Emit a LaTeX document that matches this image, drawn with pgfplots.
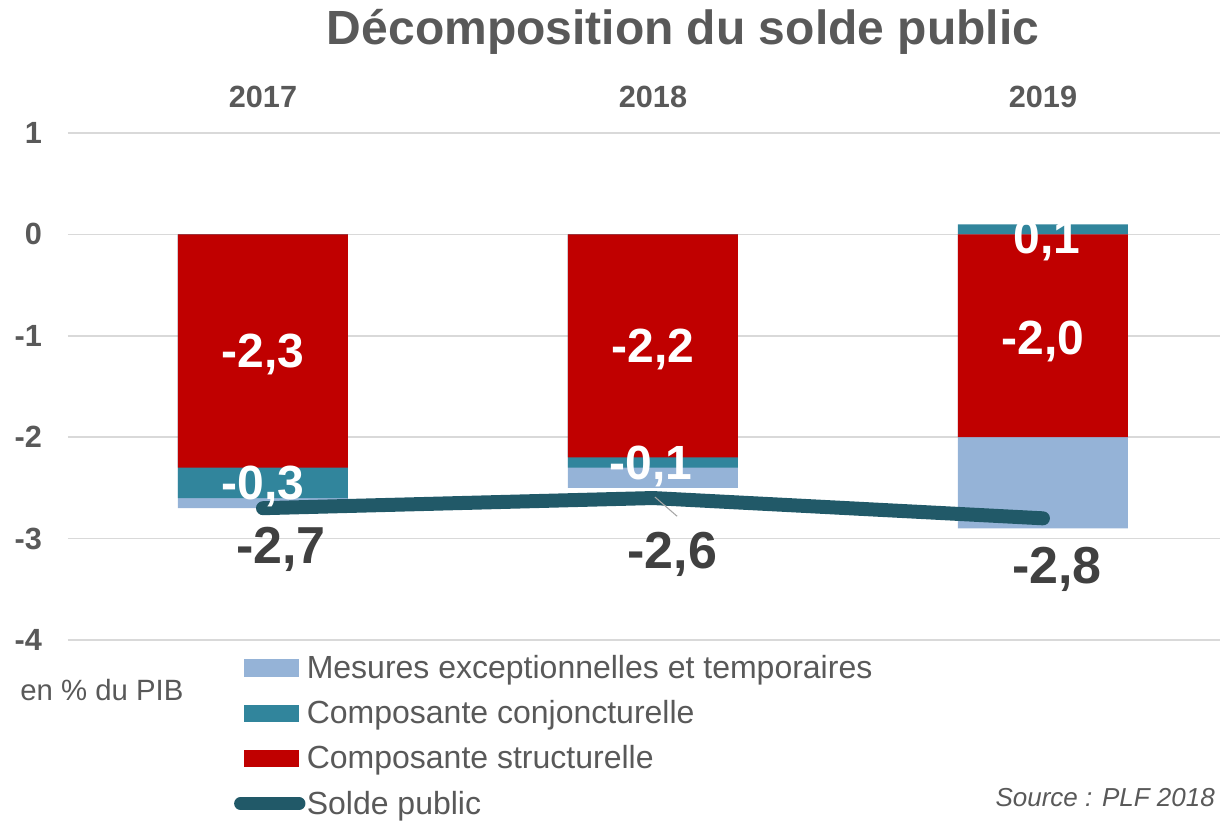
\documentclass[border=0pt]{standalone}
\usepackage{pgfplots}
\pgfplotsset{compat=1.18}
\usepackage{fontspec}
\setmainfont{Liberation Sans}
\definecolor{cRed}{HTML}{C00000}
\definecolor{cTeal}{HTML}{31859C}
\definecolor{cLight}{HTML}{95B3D7}
\definecolor{cLine}{HTML}{215968}
\definecolor{cText}{HTML}{595959}
\definecolor{cDark}{HTML}{404040}
\definecolor{cGrid}{HTML}{D9D9D9}
\begin{document}
\begin{tikzpicture}
\path[use as bounding box] (-51pt,-135.75pt) rectangle (864pt,480pt);
\begin{axis}[
  at={(0,0)}, anchor=south west, scale only axis,
  width=864pt, height=380.25pt,
  xmin=-0.5, xmax=2.454, ymin=-4, ymax=1,
  axis line style={draw=none}, tick style={draw=none}, major tick length=0pt,
  xtick=\empty,
  ytick={-4,-3,-2,-1,0,1},
  yticklabels={-4,-3,-2,-1,0,1},
  yticklabel style={font=\fontsize{23}{26}\selectfont\bfseries, text=cText, xshift=-16pt},
  ymajorgrids, grid style={cGrid, line width=1.2pt},
  clip=false,
  legend style={draw=none, fill=none, at={(0.1405,-0.022)}, anchor=north west,
    font=\fontsize{24}{27}\selectfont, text=cText, row sep=13pt,
    nodes={inner sep=1pt}},
  legend cell align=left,
]
\addplot[ybar, bar width=127.5pt, bar shift=0pt, fill=cLight, draw=none,
  legend image code/.code={\fill[cLight] (0pt,-6.4pt) rectangle (41pt,6.4pt);}]
  coordinates {(0,-2.7) (1,-2.5) (2,-2.9)};
\addlegendentry{Mesures exceptionnelles et temporaires}
\addplot[ybar, bar width=127.5pt, bar shift=0pt, fill=cTeal, draw=none,
  legend image code/.code={\fill[cTeal] (0pt,-6.4pt) rectangle (41pt,6.4pt);}]
  coordinates {(0,-2.6) (1,-2.3) (2,0.1)};
\addlegendentry{Composante conjoncturelle}
\addplot[ybar, bar width=127.5pt, bar shift=0pt, fill=cRed, draw=none,
  legend image code/.code={\fill[cRed] (0pt,-6.4pt) rectangle (41pt,6.4pt);}]
  coordinates {(0,-2.3) (1,-2.2) (2,-2.0)};
\addlegendentry{Composante structurelle}
\addplot[cLine, line width=10.5pt, line cap=round, line join=round, mark=none,
  legend image code/.code={\draw[cLine, line width=9.5pt, line cap=round] (-3pt,0pt) -- (41pt,0pt);}]
  coordinates {(0,-2.7) (1,-2.6) (2,-2.8)};
\addlegendentry{Solde public}

% leader line
\draw[gray!70, line width=0.8pt] (axis cs:1.005,-2.59) -- (axis cs:1.062,-2.78);

% data labels
\begin{scope}[every node/.style={font=\fontsize{36}{40}\selectfont\bfseries, text=white, inner sep=0pt}]
\node at (axis cs:0,-1.18) {-2,3};
\node at (axis cs:1,-1.13) {-2,2};
\node at (axis cs:2,-1.06) {-2,0};
\node at (axis cs:0,-2.49) {-0,3};
\node at (axis cs:0.995,-2.29) {-0,1};
\node at (axis cs:2.01,-0.06) {0,1};
\end{scope}
\begin{scope}[every node/.style={font=\fontsize{39}{43}\selectfont\bfseries, text=cDark, inner sep=0pt}]
\node at (axis cs:0.046,-3.11) {-2,7};
\node at (axis cs:1.05,-3.16) {-2,6};
\node at (axis cs:2.036,-3.30) {-2,8};
\end{scope}

% year labels
\begin{scope}[every node/.style={font=\fontsize{23}{26}\selectfont\bfseries, text=cText, inner sep=0pt}]
\node at (axis cs:0,1.36) {2017};
\node at (axis cs:1,1.36) {2018};
\node at (axis cs:2,1.36) {2019};
\end{scope}

% title
\node[font=\fontsize{36}{40}\selectfont\bfseries, text=cText, inner sep=0pt] at (axis cs:1.077,2.0) {Décomposition du solde public};

% unit
\node[font=\fontsize{22}{25}\selectfont, text=cText, anchor=west, inner sep=0pt] at (axis cs:-0.623,-4.49) {en \% du PIB};

% source
\node[font=\fontsize{19.5}{22}\selectfont\itshape, text=cText, anchor=east, inner sep=0pt] at (axis description cs:0.9957,-0.31) {Source : PLF 2018};
\end{axis}
\end{tikzpicture}
\end{document}
